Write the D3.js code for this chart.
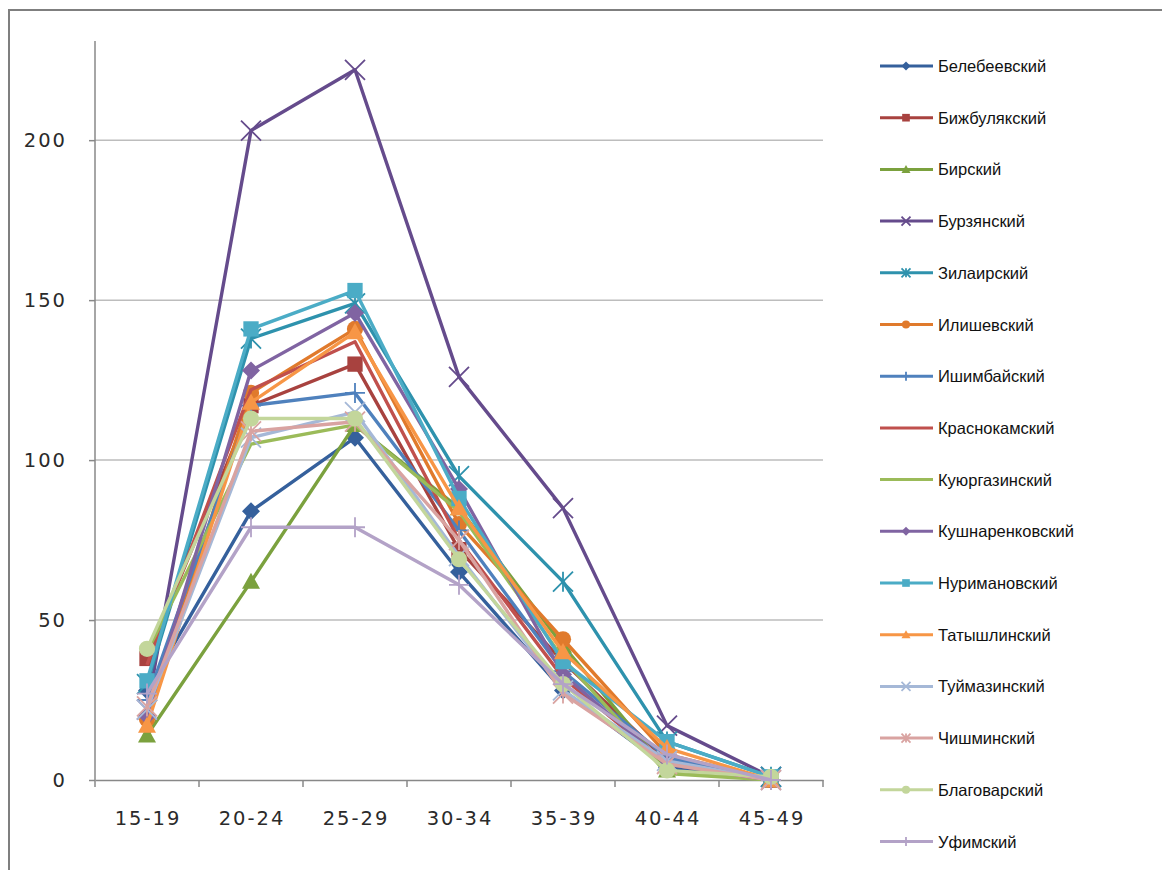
<!DOCTYPE html>
<meta charset="utf-8">
<style>
body { margin: 0; background: #fff; }
svg { display: block; }
.tick-label { font-family: 'DejaVu Sans', Arial, sans-serif; font-size: 19.5px; fill: #2a2a2a; letter-spacing: 2px; }
.legend text { font-family: 'Liberation Sans', Arial, sans-serif; font-size: 16.5px; fill: #111; }
</style>
<svg width="1162" height="870"></svg>
<script src="https://d3js.org/d3.v7.min.js"></script>
<script>

var ageGroups = ["15-19", "20-24", "25-29", "30-34", "35-39", "40-44", "45-49"];

var districts = ["Белебеевский", "Бижбулякский", "Бирский", "Бурзянский", "Зилаирский",
  "Илишевский", "Ишимбайский", "Краснокамский", "Куюргазинский", "Кушнаренковский",
  "Нуримановский", "Татышлинский", "Туймазинский", "Чишминский", "Благоварский", "Уфимский"];

// births per age group
var belebeevsky   = [28, 84, 107, 65, 28, 4, 0];
var bizhbulyaksky = [38, 117, 130, 72, 37, 6, 0];
var birsky        = [14, 62, 111, 85, 42, 3, 0];
var burzyansky    = [22, 203, 222, 126, 85, 17, 1];
var zilairsky     = [30, 138, 149, 95, 62, 12, 1];
var ilishevsky    = [19, 121, 141, 80, 44, 8, 0];
var ishimbaysky   = [25, 117, 121, 78, 34, 7, 0];
var krasnokamsky  = [36, 122, 137, 75, 32, 5, 0];
var kuyurgazinsky = [40, 105, 111, 84, 38, 2, 0];
var kushnarenk    = [20, 128, 146, 91, 33, 5, 0];
var nurimanovsky  = [31, 141, 153, 88, 37, 12, 1];
var tatyshlinsky  = [17, 118, 140, 85, 40, 10, 0];
var tuymazinsky   = [22, 107, 115, 70, 28, 6, 0];
var chishminsky   = [23, 109, 112, 75, 27, 5, 0];
var blagovarsky   = [41, 113, 113, 69, 30, 3, 1];
var ufimsky       = [27, 79, 79, 61, 30, 8, 0];

var seriesValues = [belebeevsky, bizhbulyaksky, birsky, burzyansky, zilairsky, ilishevsky,
  ishimbaysky, krasnokamsky, kuyurgazinsky, kushnarenk, nurimanovsky, tatyshlinsky,
  tuymazinsky, chishminsky, blagovarsky, ufimsky];

var yTicks = [0, 50, 100, 150, 200];

var colors = ["#35609c", "#a8423f", "#7ba13e", "#654b8c", "#2e92ad", "#e07a2c",
  "#4f81bd", "#c0504d", "#9bbb59", "#8064a2", "#4bacc6", "#f79646",
  "#a5b8d7", "#d9a3a1", "#c3d69b", "#b3a2c7"];
var markers = ["diamond", "square", "triangle", "x", "star", "circle", "plus", "none",
  "none", "diamond", "square", "triangle", "x", "star", "circle", "plus"];

var svg = d3.select("svg");

// chart area border (runs off the right and bottom edges)
svg.append("rect")
    .attr("x", 9).attr("y", 10)
    .attr("width", 1200).attr("height", 900)
    .attr("fill", "none")
    .attr("stroke", "#7f7f7f")
    .attr("stroke-width", 2);

var x = d3.scaleBand().domain(ageGroups).range([95, 823]);
var y = d3.scaleLinear().domain([0, 231]).range([780, 41]);

// gridlines
svg.append("g").selectAll("line")
  .data(yTicks.filter(function(d) { return d > 0; }))
  .enter().append("line")
    .attr("x1", 95).attr("x2", 823)
    .attr("y1", function(d) { return y(d); })
    .attr("y2", function(d) { return y(d); })
    .attr("stroke", "#bdbdbd")
    .attr("stroke-width", 1.5);

// y axis
var yAxis = svg.append("g")
    .attr("transform", "translate(95,0)")
    .call(d3.axisLeft(y).tickValues(yTicks).tickSize(6).tickPadding(22));
yAxis.select(".domain").attr("stroke", "#888").attr("stroke-width", 1.5).attr("d", "M0," + y(0) + "V" + y(231));
yAxis.selectAll(".tick line").attr("stroke", "#888").attr("stroke-width", 1.5);
yAxis.selectAll(".tick text").attr("class", "tick-label").attr("font-size", null).attr("font-family", null);

// x axis
var xAxis = svg.append("g")
    .attr("transform", "translate(0," + y(0) + ")")
    .call(d3.axisBottom(x).tickSize(0).tickPadding(31));
xAxis.select(".domain").attr("stroke", "#888").attr("stroke-width", 1.5);
xAxis.selectAll(".tick text").attr("class", "tick-label").attr("font-size", null).attr("font-family", null)
    .attr("dx", "1px");
xAxis.selectAll(".edge")
  .data(d3.range(ageGroups.length + 1))
  .enter().append("line")
    .attr("class", "edge")
    .attr("x1", function(i) { return 95 + i * x.step(); })
    .attr("x2", function(i) { return 95 + i * x.step(); })
    .attr("y1", 0).attr("y2", 7)
    .attr("stroke", "#888")
    .attr("stroke-width", 1.5);

function cx(d, i) { return x(ageGroups[i]) + x.bandwidth() / 2; }

function drawMarker(g, type, color, s) {
  if (type == "none") return;
  if (type == "diamond") {
    g.append("path").attr("d", "M0," + (-s) + "L" + s + ",0L0," + s + "L" + (-s) + ",0Z").attr("fill", color);
  } else if (type == "square") {
    g.append("rect").attr("x", -s * 0.85).attr("y", -s * 0.85).attr("width", s * 1.7).attr("height", s * 1.7).attr("fill", color);
  } else if (type == "triangle") {
    g.append("path").attr("d", "M0," + (-s) + "L" + s + "," + (s * 0.8) + "L" + (-s) + "," + (s * 0.8) + "Z").attr("fill", color);
  } else if (type == "circle") {
    g.append("circle").attr("r", s * 0.9).attr("fill", color);
  } else {
    var p = "";
    if (type == "x" || type == "star") p += "M" + (-s) + "," + (-s) + "L" + s + "," + s + "M" + (-s) + "," + s + "L" + s + "," + (-s);
    if (type == "star") p += "M0," + (-s) + "V" + s;
    if (type == "plus") p += "M0," + (-s) + "V" + s + "M" + (-s) + ",0H" + s;
    g.append("path").attr("d", p).attr("stroke", color).attr("stroke-width", 1.8).attr("fill", "none");
  }
}

var line = d3.line()
    .x(function(d, i) { return cx(d, i); })
    .y(function(d) { return y(d); });

seriesValues.forEach(function(vals, k) {
  var g = svg.append("g").attr("class", "series");
  g.append("path")
      .datum(vals)
      .attr("d", line)
      .attr("fill", "none")
      .attr("stroke", colors[k])
      .attr("stroke-width", 3.4)
      .attr("stroke-linejoin", "round");
  vals.forEach(function(v, i) {
    var m = g.append("g").attr("transform", "translate(" + cx(v, i) + "," + y(v) + ")");
    drawMarker(m, markers[k], colors[k], markers[k] == "x" || markers[k] == "star" || markers[k] == "plus" ? 10 : 9);
  });
});

// legend
var legend = svg.append("g").attr("class", "legend");
districts.forEach(function(name, k) {
  var ly = 66 + k * 51.7;
  var row = legend.append("g").attr("transform", "translate(0," + ly + ")");
  row.append("line")
      .attr("x1", 880).attr("x2", 933)
      .attr("stroke", colors[k])
      .attr("stroke-width", 3);
  var m = row.append("g").attr("transform", "translate(906,0)");
  drawMarker(m, markers[k], colors[k], 4.5);
  row.append("text")
      .attr("x", 938).attr("y", 6)
      .text(name);
});

</script>
